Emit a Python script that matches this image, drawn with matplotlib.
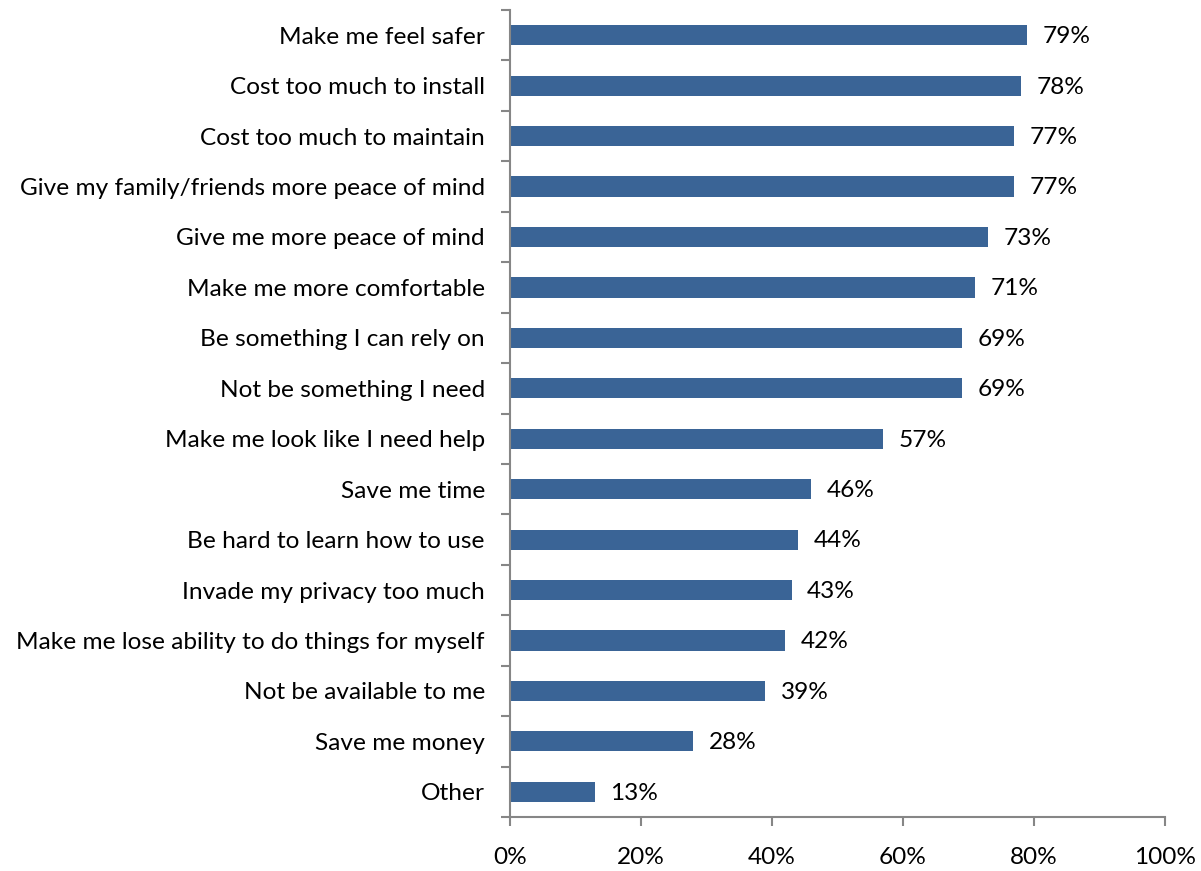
import numpy as np
import matplotlib.pyplot as plt
from matplotlib.ticker import FixedLocator, PercentFormatter

categories = [
    "Make me feel safer",
    "Cost too much to install",
    "Cost too much to maintain",
    "Give my family/friends more peace of mind",
    "Give me more peace of mind",
    "Make me more comfortable",
    "Be something I can rely on",
    "Not be something I need",
    "Make me look like I need help",
    "Save me time",
    "Be hard to learn how to use",
    "Invade my privacy too much",
    "Make me lose ability to do things for myself",
    "Not be available to me",
    "Save me money",
    "Other",
]
values = [79, 78, 77, 77, 73, 71, 69, 69, 57, 46, 44, 43, 42, 39, 28, 13]
x_ticks = [0, 20, 40, 60, 80, 100]

plt.rcParams["font.family"] = ["Lato", "DejaVu Sans"]
axis_grey = "#868686"
bar_blue = "#3A6496"
fs = 17.6

fig = plt.figure(figsize=(12.01, 8.71), dpi=100)
ax = fig.add_axes([0.4246, 0.062, 0.5454, 0.9265])

n = len(categories)
y = np.arange(n)[::-1]
ax.barh(y, values, height=0.4, color=bar_blue)

# percentage labels just past each bar end
for yi, v in zip(y, values):
    ax.annotate(f"{v}%", (v, yi), xytext=(11, -1), textcoords="offset points",
                ha="left", va="center", fontsize=fs, color="black")

ax.set_xlim(0, 100)
ax.set_ylim(-0.5, n - 0.5)
ax.xaxis.set_major_locator(FixedLocator(x_ticks))
ax.xaxis.set_major_formatter(PercentFormatter(decimals=0))

ax.set_yticks(y)
ax.set_yticklabels(categories)
ax.yaxis.set_minor_locator(FixedLocator(np.arange(-0.5, n, 1.0)))
ax.tick_params(axis="y", which="major", length=0, pad=18, labelsize=fs)
ax.tick_params(axis="y", which="minor", length=6.5, width=1.5, color=axis_grey, direction="out")
ax.tick_params(axis="x", length=6.5, width=1.5, color=axis_grey, pad=15, labelsize=fs)

for side in ("top", "right"):
    ax.spines[side].set_visible(False)
for side in ("left", "bottom"):
    ax.spines[side].set_color(axis_grey)
    ax.spines[side].set_linewidth(1.5)

fig.savefig("out.png", dpi=100)
